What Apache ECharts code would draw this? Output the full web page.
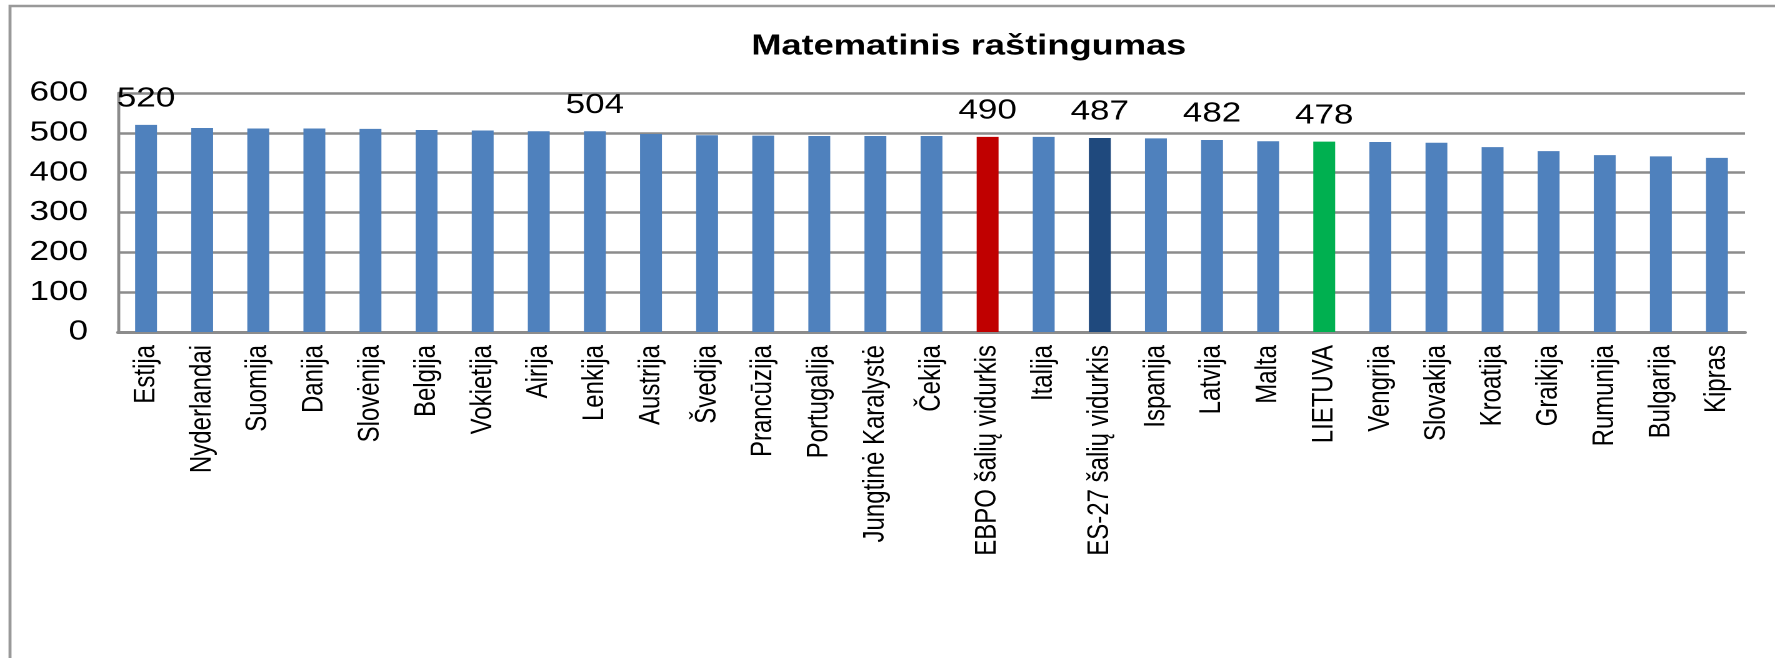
<!DOCTYPE html>
<html>
<head>
<meta charset="utf-8">
<script src="https://cdn.jsdelivr.net/npm/echarts@6/dist/echarts.min.js"></script>
<style>
  html, body { margin: 0; padding: 0; background: #fff; overflow: hidden; }
  /* the reference text is a bit wide, so draw narrower and stretch sideways */
  #main { width: 1420px; height: 658px; transform: scaleX(1.25); transform-origin: 0 0; }
</style>
</head>
<body>
<div id="main"></div>
<script>
const countries = [
    'Estija', 'Nyderlandai', 'Suomija', 'Danija', 'Slovėnija', 'Belgija', 'Vokietija',
    'Airija', 'Lenkija', 'Austrija', 'Švedija', 'Prancūzija', 'Portugalija',
    'Jungtinė Karalystė', 'Čekija', 'EBPO šalių vidurkis', 'Italija', 'ES-27 šalių vidurkis',
    'Ispanija', 'Latvija', 'Malta', 'LIETUVA', 'Vengrija', 'Slovakija', 'Kroatija',
    'Graikija', 'Rumunija', 'Bulgarija', 'Kipras'
];
const scores = [
    520, 512, 511, 511, 510, 507, 506,
    504, 504, 497, 494, 493, 492,
    492, 492, 490, 490, 487,
    486, 482, 479, 478, 477, 475, 464,
    454, 444, 441, 437
];
const yTicks = [0, 100, 200, 300, 400, 500, 600];

// which bars show their value
const labelled = ['Estija', 'Lenkija', 'EBPO šalių vidurkis', 'ES-27 šalių vidurkis', 'Latvija', 'LIETUVA'];

const baseColor = '#4F81BD';
const special = {
    'EBPO šalių vidurkis': '#C00000',
    'ES-27 šalių vidurkis': '#1F497D',
    'LIETUVA': '#00B050'
};

const font = "'Liberation Sans', Arial, sans-serif";
const grey = '#8c8c8c';

const chart = echarts.init(document.querySelector('#main'), null, { devicePixelRatio: 2 });

const barData = countries.map((c, i) => ({
    value: scores[i],
    itemStyle: { color: special[c] || baseColor },
    label: { show: labelled.includes(c) }
}));

let option = {
    backgroundColor: '#fff',
    animation: false,
    title: {
        text: 'Matematinis raštingumas',
        left: 770,
        top: 27,
        textAlign: 'center',
        textStyle: { fontFamily: font, fontSize: 29, fontWeight: 'bold', color: '#000' }
    },
    graphic: [
        {
            type: 'rect',
            shape: { x: 8, y: 6, width: 2000, height: 1000 },
            style: { fill: 'none', stroke: '#999', lineWidth: 2.4 },
            silent: true
        }
    ],
    grid: { left: 94.4, right: 24, top: 93, bottom: 326, containLabel: false },
    xAxis: {
        type: 'category',
        data: countries,
        axisLine: { lineStyle: { color: grey, width: 3 } },
        axisTick: { show: false },
        axisLabel: {
            interval: 0,
            rotate: 90,
            margin: 13,
            fontFamily: font,
            fontSize: 24,
            color: '#000'
        }
    },
    yAxis: {
        type: 'value',
        min: yTicks[0],
        max: yTicks[yTicks.length - 1],
        interval: 100,
        axisLine: { show: true, lineStyle: { color: grey, width: 2.4 } },
        axisTick: { show: false },
        axisLabel: { margin: 24, fontFamily: font, fontSize: 28, color: '#000' },
        splitLine: { lineStyle: { color: grey, width: 2.5 } }
    },
    series: [
        {
            type: 'bar',
            data: barData,
            barWidth: '39%',
            label: {
                position: 'top',
                distance: 12,
                fontFamily: font,
                fontSize: 28,
                color: '#000'
            }
        }
    ]
};

chart.setOption(option);
</script>
</body>
</html>
